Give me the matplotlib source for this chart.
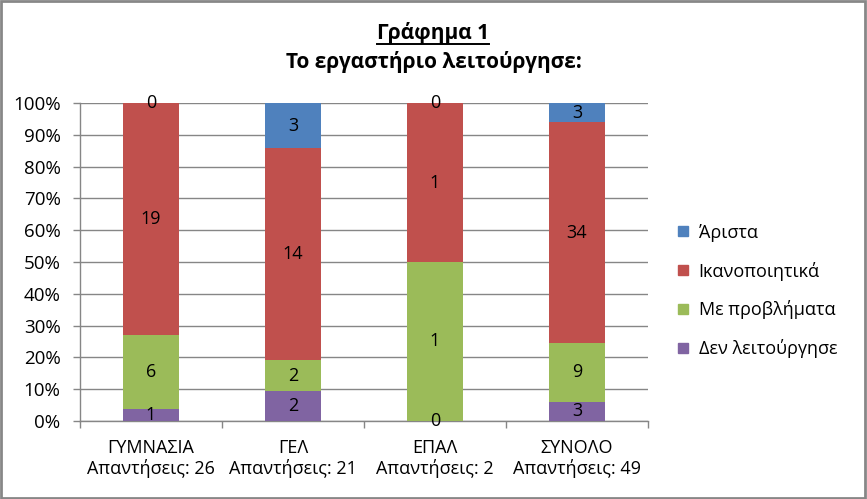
import matplotlib
matplotlib.use("Agg")
import matplotlib.pyplot as plt
from matplotlib.lines import Line2D
from matplotlib.patches import Rectangle
import numpy as np

plt.rcParams['font.family'] = ['Open Sans', 'Noto Sans', 'DejaVu Sans']

categories = ["ΓΥΜΝΑΣΙΑ", "ΓΕΛ", "ΕΠΑΛ", "ΣΥΝΟΛΟ"]
answers = [26, 21, 2, 49]
series_names = ["Δεν λειτούργησε", "Με προβλήματα", "Ικανοποιητικά", "Άριστα"]
den_leitourgise = [1, 2, 0, 3]
me_provlimata = [6, 2, 1, 9]
ikanopoiitika = [19, 14, 1, 34]
arista = [0, 3, 0, 3]
colors = ["#8064A2", "#9BBB59", "#C0504D", "#4F81BD"]
y_ticks = [0, 10, 20, 30, 40, 50, 60, 70, 80, 90, 100]

counts = np.array([den_leitourgise, me_provlimata, ikanopoiitika, arista], dtype=float)
totals = counts.sum(axis=0)
perc = counts / totals * 100

FS = 13

fig = plt.figure(figsize=(8.67, 4.99), dpi=100)
ax = fig.add_axes([80/867, 1-421/499, (648-80)/867, (421-103)/499])

x = np.arange(len(categories))
bottom = np.zeros(len(categories))
for i in range(len(series_names)):
    ax.bar(x, perc[i], bottom=bottom, width=0.4, color=colors[i], zorder=3)
    for j in range(len(categories)):
        yc = bottom[j] + perc[i][j] / 2
        ax.text(x[j], yc, f"{int(counts[i][j])}", ha='center', va='center',
                fontsize=FS, color='black', zorder=4)
    bottom += perc[i]

ax.set_xlim(-0.5, len(categories) - 0.5)
ax.set_ylim(0, 100)
ax.set_yticks(y_ticks)
ax.set_yticklabels([f"{v}%" for v in y_ticks], fontsize=13.5)
ax.yaxis.grid(True, color='#868686', linewidth=1, zorder=0)
ax.set_xticks(x)
ax.set_xticklabels([f"{c}\nΑπαντήσεις: {a}" for c, a in zip(categories, answers)],
                   fontsize=FS, linespacing=1.1)
ax.tick_params(axis='x', length=0, pad=13)
ax.set_xticks(np.arange(-0.5, len(categories), 1.0), minor=True)
ax.tick_params(axis='x', which='minor', length=5, color='#868686', width=1)
ax.tick_params(axis='y', length=5, color='#868686', width=1, pad=9)
for s in ['top', 'right']:
    ax.spines[s].set_visible(False)
for s in ['left', 'bottom']:
    ax.spines[s].set_color('#868686')
    ax.spines[s].set_linewidth(1)

t1 = fig.text(433/867, 1-33/499, "Γράφημα 1", ha='center', va='center',
              fontsize=15, fontweight='bold')
fig.text(434/867, 1-62/499, "Το εργαστήριο λειτούργησε:", ha='center', va='center',
         fontsize=15, fontweight='bold')

fig.canvas.draw()
bb = t1.get_window_extent().transformed(fig.transFigure.inverted())
fig.add_artist(Line2D([bb.x0, bb.x1], [1-43.5/499, 1-43.5/499], color='black', linewidth=1.4))

handles = [Line2D([0], [0], marker='s', linestyle='none', markersize=7,
                  markerfacecolor=colors[i], markeredgecolor=colors[i])
           for i in reversed(range(len(series_names)))]
labels = list(reversed(series_names))
fig.legend(handles, labels, loc='center left', bbox_to_anchor=(658/867, 1-291/499),
           frameon=False, fontsize=FS, labelspacing=1.1, handletextpad=0.35,
           handlelength=1.0)

fig.add_artist(Rectangle((0.001, 0.002), 0.997, 0.995, transform=fig.transFigure,
                         fill=False, edgecolor='#878787', linewidth=2))

fig.savefig("out.png", dpi=100)
